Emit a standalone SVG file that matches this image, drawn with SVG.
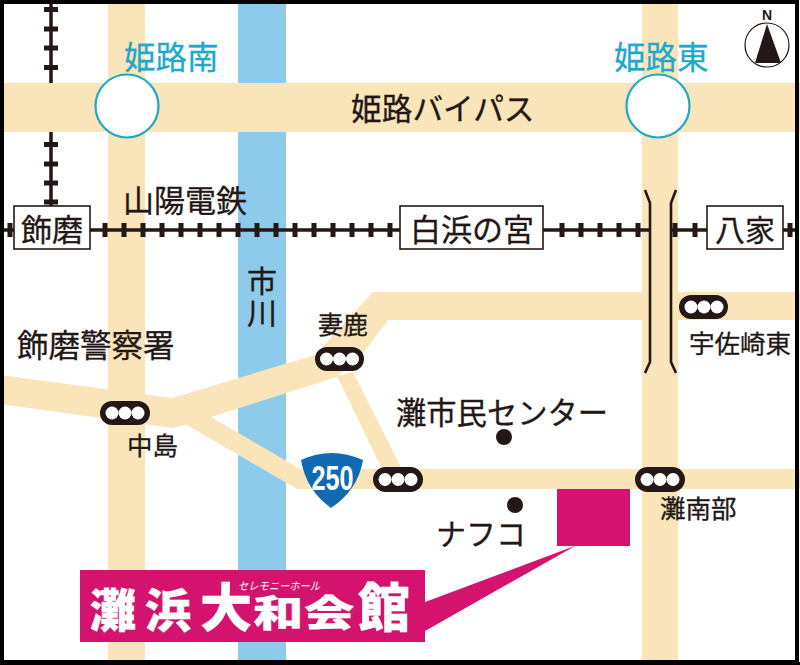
<svg xmlns="http://www.w3.org/2000/svg" width="800" height="665" viewBox="0 0 800 665">
<style>
text{font-family:"Noto Sans CJK JP","Noto Sans",sans-serif;fill:#231815;stroke:#231815;stroke-width:.3}
.road{fill:#f9e5b9}
.tie{fill:none;stroke:#231815;stroke-width:5}
.rail{fill:none;stroke:#231815;stroke-width:3.5}
.sta{fill:#fff;stroke:#231815;stroke-width:1.6}
.pill{fill:#231815}
.lamp{fill:#fff}
.ic{fill:#fff;stroke:#1fa9c9;stroke-width:2.2}
text.icl{fill:#1fa9c9;stroke:#1fa9c9;font-size:31.500px}
text.ban{fill:#fff;stroke:#fff;font-weight:900}
text.wh{fill:#fff;stroke:none}
.pink{fill:#d4136f}
</style>
<rect width="800" height="665" fill="#fff"/>
<g id="river"><rect x="238" y="0" width="48" height="665" fill="#8ecbeb"/></g>
<g id="roads">
<rect class="road" x="108" y="0" width="37" height="665"/>
<rect class="road" x="642" y="0" width="36" height="665"/>
<rect class="road" x="0" y="83" width="800" height="49"/>
<polygon class="road" points="0,375 172,398 315,355 373,292 800,292 800,320 388,320 363,353 337,377 211,417 300,469 297,489 187,425 172,428 0,404"/>
<polygon class="road" points="337,376 353,372 402,469 382,469"/>
<rect class="road" x="297" y="469" width="503" height="20"/>
</g>
<g id="connectors">
<path class="rail" d="M51 4V83M51 132V210M4 230H650M671 230H796"/>
<path class="tie" d="M44 9.500h14M44 29h14M44 48h14M44 67.500h14M44 144.500h14M44 164h14M44 183h14M44 202h14"/>
<path class="tie" d="M10 223v14M105 223v14M124 223v14M143 223v14M162 223v14M181 223v14M200 223v14M219 223v14M238 223v14M257 223v14M276 223v14M295 223v14M314 223v14M333 223v14M352 223v14M371 223v14M390 223v14M562 223v14M581 223v14M600 223v14M619 223v14M638 223v14M675 223v14M695 223v14M790 223v14"/>
<path d="M645 190L650 203V362L645 373M676 190L671 203V362L676 373" fill="none" stroke="#231815" stroke-width="2.6"/>
<path class="pink" d="M425 602L576 545.500L425 631Z"/>
</g>
<g id="ic-himejiminami"><circle class="ic" cx="127" cy="106" r="31.500"/><text class="icl" x="124" y="69">姫路南</text></g>
<g id="ic-himejihigashi"><circle class="ic" cx="658" cy="106" r="31.500"/><text class="icl" x="614" y="69">姫路東</text></g>
<g id="bypass"><text x="351" y="120" font-size="30.700">姫路バイパス</text></g>
<g id="sanyo"><text x="123" y="212" font-size="31">山陽電鉄</text></g>
<g id="st-shikama"><rect class="sta" x="14" y="206" width="76" height="43"/><text x="21" y="241" font-size="31">飾磨</text></g>
<g id="st-shirahama"><rect class="sta" x="400" y="206" width="143" height="43"/><text x="410" y="241" font-size="31">白浜の宮</text></g>
<g id="st-yaka"><rect class="sta" x="707" y="206" width="76" height="43"/><text x="715" y="241" font-size="30">八家</text></g>
<g id="ichikawa"><text x="262" y="266" font-size="30" writing-mode="vertical-rl" letter-spacing="2">市川</text></g>
<g id="police"><text x="17" y="357" font-size="31.500">飾磨警察署</text></g>
<g id="sig-nakajima"><rect class="pill" x="100" y="401" width="50" height="24" rx="12"/><circle class="lamp" cx="112" cy="413" r="6.500"/><circle class="lamp" cx="125" cy="413" r="6.500"/><circle class="lamp" cx="138" cy="413" r="6.500"/><text x="127" y="455" font-size="25.500">中島</text></g>
<g id="sig-shikama"><rect class="pill" x="315" y="347" width="49" height="24" rx="12"/><circle class="lamp" cx="326.500" cy="359" r="6.500"/><circle class="lamp" cx="339.500" cy="359" r="6.500"/><circle class="lamp" cx="352.500" cy="359" r="6.500"/><text x="318" y="334" font-size="25">妻鹿</text></g>
<g id="sig-250"><rect class="pill" x="373" y="467" width="50" height="25" rx="12.500"/><circle class="lamp" cx="385" cy="479.500" r="6.500"/><circle class="lamp" cx="398" cy="479.500" r="6.500"/><circle class="lamp" cx="411" cy="479.500" r="6.500"/></g>
<g id="sig-nadaminamibe"><rect class="pill" x="635" y="467" width="50" height="25" rx="12.500"/><circle class="lamp" cx="647" cy="479.500" r="6.500"/><circle class="lamp" cx="660" cy="479.500" r="6.500"/><circle class="lamp" cx="673" cy="479.500" r="6.500"/><text x="660" y="518" font-size="25.500">灘南部</text></g>
<g id="sig-usazaki"><rect class="pill" x="679" y="295" width="49" height="24" rx="12"/><circle class="lamp" cx="691" cy="307" r="6.500"/><circle class="lamp" cx="704" cy="307" r="6.500"/><circle class="lamp" cx="717" cy="307" r="6.500"/><text x="689" y="353" font-size="25.500">宇佐崎東</text></g>
<g id="nada-center"><circle cx="504" cy="437" r="8" fill="#231815"/><text x="396" y="424" font-size="30.300">灘市民センター</text></g>
<g id="nafco"><circle cx="515" cy="505" r="8" fill="#231815"/><text x="436" y="545" font-size="30">ナフコ</text></g>
<g id="route250"><path d="M301 460Q331 446 363 460Q358 490 331 508Q306 490 301 460Z" fill="#0f6ab4"/><text class="wh" transform="translate(311.500 490) scale(.7 1)" font-weight="700" font-size="36" style="font-family:'Liberation Sans',sans-serif">250</text></g>
<g id="compass"><circle cx="767" cy="45" r="22" fill="#fff" stroke="#231815" stroke-width="1.200"/><path d="M767 24L755 63H781Z" fill="#231815"/><text x="767" y="20" font-size="14" text-anchor="middle" font-weight="700" style="font-family:'Liberation Sans',sans-serif;stroke:none">N</text></g>
<g id="destination"><rect class="pink" x="557" y="489" width="73" height="57"/></g>
<g id="banner"><rect class="pink" x="80" y="570" width="345" height="72"/>
<text class="ban" x="90" y="627" font-size="46" stroke-width=".3" font-weight="700">灘</text>
<text class="ban" x="145" y="627" font-size="46" stroke-width=".3" font-weight="700">浜</text>
<text class="ban" x="200" y="627" font-size="52" stroke-width="1.500">大</text>
<text class="ban" transform="translate(253 627) scale(1.05 .78)" font-size="48" stroke-width="1">和</text>
<text class="ban" transform="translate(304 627) scale(1.05 .78)" font-size="48" stroke-width="1">会</text>
<text class="ban" x="358" y="627" font-size="52" stroke-width=".8">館</text>
<text class="wh" x="238" y="590" font-size="11" textLength="82" lengthAdjust="spacingAndGlyphs" font-style="italic">セレモニーホール</text></g>
<g id="frame"><rect x="2" y="2" width="795" height="660" fill="none" stroke="#000" stroke-width="4"/><rect x="0" y="662" width="800" height="3" fill="#000"/></g>
</svg>
